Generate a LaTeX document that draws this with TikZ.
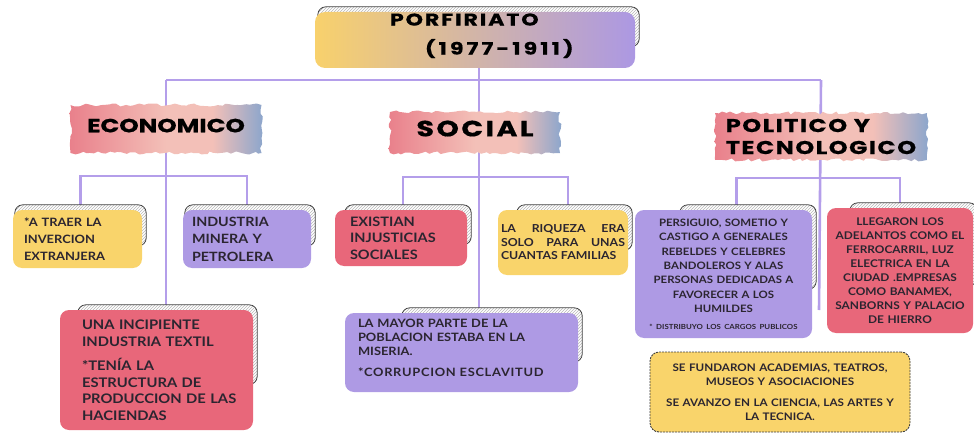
\documentclass[tikz,border=0pt]{standalone}
\usepackage{fontspec}
\setmainfont{Lato}[FakeStretch=1.12]
\newfontfamily\headfont{Poppins}[FakeStretch=1.3, FakeBold=0.6]
\usetikzlibrary{calc,patterns,decorations.pathmorphing}
\pgfdeclarelayer{wires}
\pgfdeclarelayer{hatch}
\pgfsetlayers{wires,hatch,main}
\definecolor{cardyellow}{HTML}{F9D46B}
\definecolor{cardpurple}{HTML}{AE9AE4}
\definecolor{cardred}{HTML}{E8677A}
\definecolor{linkcolor}{HTML}{B49EEA}
\definecolor{brushred}{HTML}{E9808B}
\definecolor{brushpink}{HTML}{F3C0B8}
\definecolor{brushblue}{HTML}{8CA6CC}
\definecolor{titleyellow}{HTML}{F8D16C}
\definecolor{titlemid}{HTML}{D8B6AC}
\definecolor{titlepurple}{HTML}{AC98E3}
\definecolor{ink}{HTML}{2B2530}
\pgfdeclarehorizontalshading{brushshade}{100bp}{color(0bp)=(brushred); color(25bp)=(brushred); color(50bp)=(brushpink); color(62bp)=(brushpink); color(75bp)=(brushblue); color(100bp)=(brushblue)}
\tikzstyle{link} = [draw=linkcolor, line width=2.6pt]
\tikzstyle{card} = [rectangle, rounded corners=9pt, text=ink, inner ysep=3pt]
\tikzstyle{brush} = [rectangle, shading=brushshade, decorate, decoration={random steps, segment length=4pt, amplitude=1.5pt}, text=black]
\tikzstyle{hatch} = [draw=black!75, line width=0.8pt, rounded corners=8pt, preaction={fill=white}, pattern=north east lines, pattern color=black!28]
% hatched sheet peeking out behind a card
\newcommand{\hatchbehind}[2]{%
  \begin{pgfonlayer}{hatch}
    \draw[hatch] ([shift={(#2,5pt)}]#1.north west) rectangle ($(#1.north east)!0.62!(#1.south east)+(4pt,0)$);
  \end{pgfonlayer}}
\newcommand{\headtext}[2]{\headfont\bfseries\addfontfeature{LetterSpace=#1}#2}

\begin{document}
\begin{tikzpicture}[x=1pt, y=-1pt]
    \useasboundingbox (0,0) rectangle (974,433);
    % headings
    \node[rectangle, rounded corners=10pt, left color=titleyellow, middle color=titlemid, right color=titlepurple, minimum height=56pt, inner sep=0pt, text width=320pt, align=left, font=\fontsize{17}{29}\selectfont] (title) at (475,40)
        {\hspace*{75pt}\headtext{11}{PORFIRIATO}\\\hspace*{110pt}\headtext{18}{(1977-1911)}\rule[-12pt]{0pt}{0pt}};
    \node[brush, minimum width=191pt, minimum height=48pt, font=\fontsize{19}{22}\selectfont] (econ) at (166,129) {\headtext{0}{ECONOMICO}\rule[-7pt]{0pt}{0pt}};
    \node[brush, minimum width=170pt, minimum height=41pt, font=\fontsize{22}{24}\selectfont] (social) at (475,132.5) {\headtext{11}{SOCIAL}\rule[-8pt]{0pt}{0pt}};
    \node[brush, minimum width=212pt, minimum height=47pt, align=left, font=\fontsize{18.5}{22}\selectfont] (polit) at (821,136.5) {\headtext{8}{POLITICO Y}\\\headtext{8}{TECNOLOGICO}};
    % economico
    \node[card, fill=cardyellow, text width=107pt, inner xsep=11pt, minimum height=58pt, align=left, font=\bfseries\fontsize{11.5}{17}\selectfont] (inversion) at (77.5,239) {*A TRAER LA\\INVERCION\\EXTRANJERA};
    \node[card, fill=cardpurple, text width=110pt, inner xsep=9pt, minimum height=58pt, align=left, font=\bfseries\fontsize{12.8}{17.5}\selectfont] (minera) at (247,239) {INDUSTRIA\\MINERA Y\\PETROLERA};
    \node[card, fill=cardred, text width=175pt, inner xsep=9pt, minimum height=120pt, align=left, font=\bfseries\fontsize{13.2}{16.5}\selectfont] (textil) at (156.5,370)
        {\hspace*{13pt}UNA INCIPIENTE\\\hspace*{13pt}INDUSTRIA TEXTIL\\[8pt]\hspace*{13pt}*TENÍA LA\\\hspace*{13pt}ESTRUCTURA DE\\\hspace*{13pt}PRODUCCION DE LAS\\\hspace*{13pt}HACIENDAS};
    % social
    \node[card, fill=cardred, text width=110pt, inner xsep=11pt, minimum height=56pt, align=left, font=\bfseries\fontsize{13}{16.5}\selectfont] (injusticia) at (401,238) {\hspace*{4pt}EXISTIAN\\\hspace*{4pt}INJUSTICIAS\\\hspace*{4pt}SOCIALES};
    \node[card, fill=cardyellow, text width=124pt, inner xsep=3pt, minimum height=65pt, align=justify, font=\bfseries\fontsize{11}{13.5}\selectfont] (riqueza) at (563,242.5) {LA RIQUEZA ERA\linebreak SOLO PARA UNAS\linebreak CUANTAS FAMILIAS};
    \node[card, fill=cardpurple, text width=207pt, inner xsep=13pt, minimum height=79pt, align=left, font=\bfseries\fontsize{11.5}{14}\selectfont] (miseria) at (461.5,352.5)
        {LA MAYOR PARTE DE LA\\POBLACION ESTABA EN LA\\MISERIA.\\[7pt]{\addfontfeature{LetterSpace=6}*CORRUPCION ESCLAVITUD}\rule[-10pt]{0pt}{0pt}};
    % politico
    \node[card, fill=cardpurple, text width=169pt, inner xsep=4pt, minimum height=128pt, align=center, font=\bfseries\fontsize{10.2}{14.4}\selectfont] (persecucion) at (723.5,274)
        {PERSIGUIO, SOMETIO Y\\CASTIGO A GENERALES\\REBELDES Y CELEBRES\\BANDOLEROS Y ALAS\\PERSONAS DEDICADAS A\\FAVORECER A LOS\\HUMILDES\\[2pt]{\fontsize{7}{9}\selectfont * DISTRIBUYO LOS CARGOS PUBLICOS}};
    \node[card, fill=cardred, text width=144pt, inner xsep=1pt, minimum height=125pt, align=center, font=\bfseries\fontsize{10.6}{14}\selectfont] (adelantos) at (900,270.5)
        {LLEGARON LOS\\ADELANTOS COMO EL\\FERROCARRIL, LUZ\\ELECTRICA EN LA\\CIUDAD .EMPRESAS\\COMO BANAMEX,\\SANBORNS Y PALACIO\\DE HIERRO};
    \node[card, fill=cardyellow, draw=black!75, line width=0.9pt, dash pattern=on 2pt off 1pt, text width=252pt, inner xsep=4pt, minimum height=80pt, align=center, font=\bfseries\fontsize{10.4}{14}\selectfont] (cultura) at (780,392)
        {SE FUNDARON ACADEMIAS, TEATROS,\\MUSEOS Y ASOCIACIONES\\[7pt]SE AVANZO EN LA CIENCIA, LAS ARTES Y\\LA TECNICA.};
    % sheets behind the cards
    \hatchbehind{title}{3pt}
    \hatchbehind{inversion}{2pt}
    \hatchbehind{minera}{2pt}
    \hatchbehind{textil}{18pt}
    \hatchbehind{injusticia}{10pt}
    \hatchbehind{riqueza}{19pt}
    \hatchbehind{miseria}{57pt}
    \hatchbehind{persecucion}{45pt}
    \hatchbehind{adelantos}{23pt}
    % connectors
    \coordinate (hub) at (479,80);
    \coordinate (econfork) at (166,176);
    \coordinate (socialfork) at (479,177);
    \coordinate (politfork) at (819,178);
    \coordinate (politend) at (819,310);
    \begin{pgfonlayer}{wires}
        \path[link] (title.south -| hub) -- (hub |- miseria.north);
        \path[link] (econ |- hub) -- (polit |- hub);
        \path[link] (econ |- hub) -- (econ |- textil.north);
        \path[link] (polit |- hub) -- (politend);
        \path[link] ([xshift=3pt]inversion.north) |- (econfork) -| (minera.north);
        \path[link] ([xshift=2pt]injusticia.north) |- (socialfork) -| ([xshift=5pt]riqueza.north);
        \path[link] ([xshift=13pt]persecucion.north) |- (politfork) -| (adelantos.north);
    \end{pgfonlayer}
\end{tikzpicture}
\end{document}
